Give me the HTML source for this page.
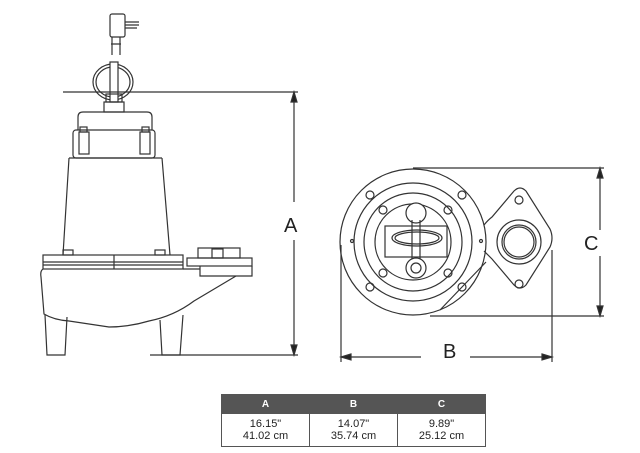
<!DOCTYPE html>
<html><head><meta charset="utf-8"><style>
html,body{margin:0;padding:0;background:#fff;width:640px;height:453px;overflow:hidden}
svg{position:absolute;left:0;top:0}
table{position:absolute;left:221px;top:394px;border-collapse:collapse;font-family:"Liberation Sans",sans-serif;font-size:11px}
td{border:1px solid #555;width:87px;text-align:center;padding:0;line-height:12px;height:32px;color:#222}
th{background:#555;color:#fff;height:18px;border:1px solid #555;font-size:10px;font-weight:bold;padding:0}
</style></head><body>
<svg width="640" height="453" viewBox="0 0 640 453" fill="none" stroke="#333" stroke-width="1.2">
<!-- plug -->
<rect x="110" y="14" width="15" height="23" rx="2"/>
<path d="M125 22h14M125 25h14M125 28h12"/>
<path d="M112 37v18M120 37v18M111 44h10"/>
<!-- handle -->
<ellipse cx="113" cy="82" rx="20" ry="18"/><ellipse cx="113" cy="82" rx="17" ry="15"/>
<rect x="110" y="62" width="8" height="40" fill="#fff"/>
<rect x="106" y="94" width="16" height="8"/>
<rect x="104" y="102" width="20" height="10"/>
<!-- top cap -->
<path d="M78 130v-13q0-5 5-5h64q5 0 5 5v13"/>
<rect x="73" y="130" width="82" height="28" rx="3"/>
<rect x="79" y="132" width="10" height="22"/><rect x="140" y="132" width="10" height="22"/>
<rect x="80" y="127" width="7" height="5"/><rect x="142" y="127" width="7" height="5"/>
<!-- motor -->
<path d="M69 158L63 255M162 158L170 255M69 158h93"/>
<rect x="63" y="250" width="10" height="5"/><rect x="155" y="250" width="10" height="5"/>
<!-- flange -->
<rect x="43" y="255" width="140" height="14"/>
<path d="M43 262h140M43 265h140M114 255v14"/>
<rect x="198" y="248" width="42" height="10"/><rect x="212" y="249" width="11" height="9"/>
<rect x="187" y="258" width="65" height="8"/>
<path d="M183 269h17v-3M200 269v7h52v-10"/>
<!-- base -->
<path d="M43 269q-3 2-2 8l3 37q10 6 25 7l40 6q20 0 40-6q25-5 45-20q20-12 42-25"/>
<path d="M45 315l2 40h18l2-38M160 320l2 35h18l3-40"/>
<!-- A dim -->
<path d="M63 92h235M150 355h148M294 92v110M294 240v115"/>
<path d="M291 102l3-10 3 10zM291 345l3 10 3-10z" fill="#222"/>
<text x="284" y="232" font-family="Liberation Sans,sans-serif" font-size="20" fill="#222" stroke="none">A</text>
<!-- right view -->
<circle cx="413" cy="242" r="73"/>
<circle cx="413" cy="242" r="59"/>
<circle cx="413" cy="242" r="49"/>
<circle cx="413" cy="242" r="38"/>
<g>
<circle cx="370" cy="195" r="4"/><circle cx="462" cy="195" r="4"/><circle cx="370" cy="287" r="4"/><circle cx="462" cy="287" r="4"/>
<circle cx="383" cy="210" r="4"/><circle cx="448" cy="210" r="4"/><circle cx="383" cy="273" r="4"/><circle cx="448" cy="273" r="4"/>
<circle cx="352" cy="241" r="1.5"/><circle cx="481" cy="241" r="1.5"/>
</g>
<rect x="385" y="226" width="62" height="31"/>
<circle cx="416" cy="213" r="10" fill="#fff"/>
<ellipse cx="417" cy="238" rx="25" ry="8"/><ellipse cx="417" cy="238" rx="22" ry="6"/>
<path d="M412 220v40M420 220v40"/>
<circle cx="416" cy="268" r="10" fill="#fff"/><circle cx="416" cy="268" r="5"/>
<!-- flange diamond -->
<path d="M484 225q4-5 8-8l22-26q6-6 12 0l24 38q4 9 0 18l-24 38q-6 6-12 0l-22-26q-5-5-8-8M486 262l-46 48"/>
<circle cx="519" cy="242" r="22" fill="#fff"/><circle cx="519" cy="242" r="17"/><circle cx="519" cy="242" r="15"/>
<circle cx="519" cy="200" r="4"/><circle cx="519" cy="284" r="4"/>
<!-- C dim -->
<path d="M413 168h191M430 316h174M600 168v62M600 256v60"/>
<path d="M597 178l3-10 3 10zM597 306l3 10 3-10z" fill="#222"/>
<text x="584" y="250" font-family="Liberation Sans,sans-serif" font-size="20" fill="#222" stroke="none">C</text>
<!-- B dim -->
<path d="M341 245v117M552 250v112M341 357h80M470 357h82"/>
<path d="M351 354l-10 3 10 3zM542 354l10 3-10 3z" fill="#222"/>
<text x="443" y="358" font-family="Liberation Sans,sans-serif" font-size="20" fill="#222" stroke="none">B</text>
</svg>
<table>
<tr><th>A</th><th>B</th><th>C</th></tr>
<tr><td>16.15"<br>41.02 cm</td><td>14.07"<br>35.74 cm</td><td>9.89"<br>25.12 cm</td></tr>
</table>
</body></html>
